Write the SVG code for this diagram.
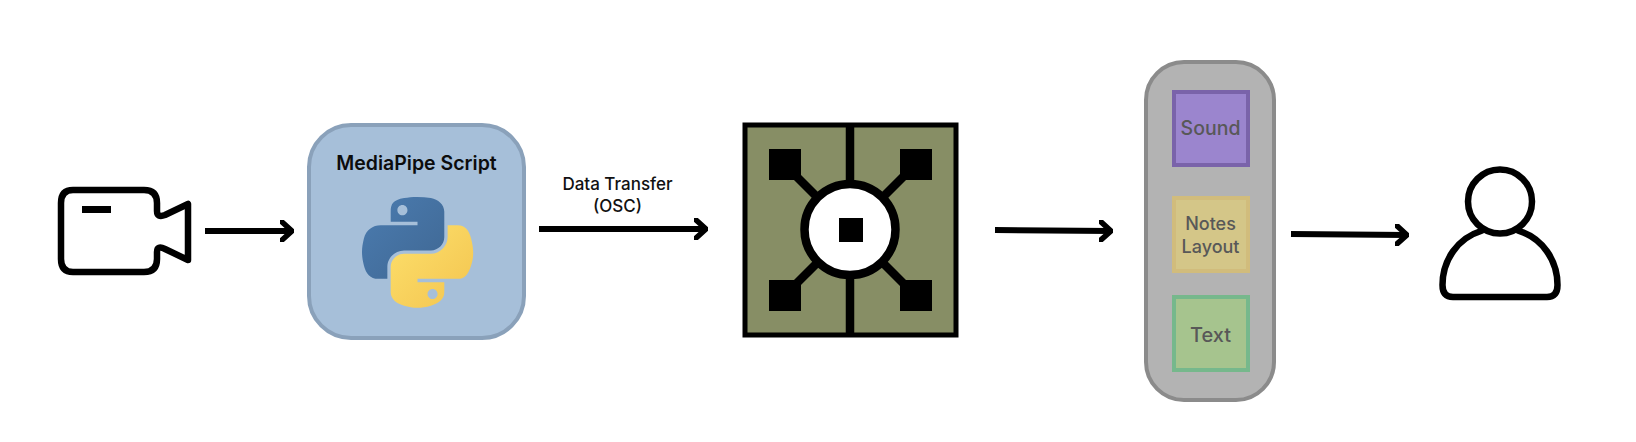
<svg xmlns="http://www.w3.org/2000/svg" width="1636" height="442" viewBox="0 0 1636 442">
<style>
text{font-family:Inter,"Liberation Sans",sans-serif;text-anchor:middle}
.ink{fill:none;stroke:#000;stroke-linecap:round;stroke-linejoin:round}
.label{font-size:19.5px;font-weight:500;fill:#585858}
.edge{font-size:17px;font-weight:500;fill:#111}
.sq{stroke-width:4}
.chipfill{fill:#000}
</style>
<defs>
<marker id="head" viewBox="0 0 14 22" refX="12" refY="11" markerWidth="14" markerHeight="22" markerUnits="userSpaceOnUse" orient="auto">
<path d="M2,2 L12,11 L2,20" fill="none" stroke="#000" stroke-width="5.5" stroke-linecap="round" stroke-linejoin="round"/>
</marker>
<linearGradient id="pyBlue" x1="0" y1="0" x2="1" y2="1"><stop offset="0" stop-color="#4b7cb0"/><stop offset="1" stop-color="#3f6793"/></linearGradient>
<linearGradient id="pyYellow" x1="0" y1="0" x2="1" y2="1"><stop offset="0" stop-color="#fde06c"/><stop offset="1" stop-color="#f3c44f"/></linearGradient>
</defs>
<rect width="1636" height="442" fill="#fff"/>
<g id="connectors" fill="none" stroke="#000" stroke-width="6">
<path d="M205,231 H292" marker-end="url(#head)"/>
<path d="M539,229 H706" marker-end="url(#head)"/>
<path d="M995,230 L1111,231" marker-end="url(#head)"/>
<path d="M1291,234 L1407,235" marker-end="url(#head)"/>
</g>
<g id="camera">
<path class="ink" stroke-width="6.5" d="M73,190 H144 Q157,190 157,203 V211 Q157,218 165,215 L188,204 V260 L165,249 Q157,245 157,252 V259 Q157,272 144,272 H73 Q61,272 61,259 V203 Q61,190 73,190 Z"/>
<rect x="82" y="206" width="29" height="7" fill="#000"/>
</g>
<g id="mediapipe">
<rect x="309" y="125" width="215" height="213" rx="42" fill="#a6bfd9" stroke="#8aa1ba" stroke-width="4"/>
<text x="416.5" y="170" font-size="19.5" font-weight="600" fill="#0c0c0c">MediaPipe Script</text>
<g transform="translate(362,197) scale(1,0.985)">
<path fill="url(#pyBlue)" d="M54.918785,0.00091927 C50.335132,0.02221727 45.957846,0.41313697 42.106285,1.0946693 30.760069,3.0991731 28.700036,7.2947714 28.700035,15.032169 v10.21875 h26.8125 v3.40625 h-26.8125 -10.0625 c-7.792459,0 -14.6157588,4.683717 -16.7499998,13.59375 -2.46181998,10.212966 -2.57101508,16.586023 0,27.25 1.9059283,7.937852 6.4575432,13.593748 14.2499998,13.59375 h9.21875 v-12.25 c0,-8.849902 7.657144,-16.656248 16.75,-16.65625 h26.78125 c7.454951,0 13.406253,-6.138164 13.40625,-13.625 v-25.53125 c0,-7.2663386 -6.12998,-12.7247771 -13.40625,-13.9374997 C64.281548,0.32794397 59.502438,-0.02037903 54.918785,0.00091927 Z m-14.5,8.21875 c2.769547,0 5.03125,2.2986456 5.03125,5.1249996 -2e-6,2.816336 -2.261703,5.09375 -5.03125,5.09375 -2.779476,-1e-6 -5.03125,-2.277415 -5.03125,-5.09375 -1e-6,-2.826353 2.251774,-5.1249996 5.03125,-5.1249996 Z"/>
<path fill="url(#pyYellow)" d="M85.637535,28.657169 v11.90625 c0,9.230755 -7.825895,16.999999 -16.75,17 h-26.78125 c-7.335833,0 -13.406249,6.278483 -13.40625,13.625 v25.531247 c0,7.266344 6.318588,11.540324 13.40625,13.625004 8.487331,2.49561 16.626237,2.94663 26.78125,0 6.750155,-1.95439 13.406253,-5.88761 13.40625,-13.625004 V86.500919 h-26.78125 v-3.40625 h26.78125 13.406254 c7.792461,0 10.696251,-5.435408 13.406241,-13.59375 2.79933,-8.398886 2.74022,-16.475776 0,-27.25 -1.92578,-7.757441 -5.60387,-13.59375 -13.406241,-13.59375 Z m-15.0625,64.65625 c2.779478,3e-6 5.03125,2.277417 5.03125,5.093747 -2e-6,2.826354 -2.251775,5.125004 -5.03125,5.125004 -2.76955,0 -5.03125,-2.29865 -5.03125,-5.125004 2e-6,-2.81633 2.261697,-5.093747 5.03125,-5.093747 Z"/>
</g>
</g>
<g id="edge-label">
<text class="edge" x="617.5" y="190">Data Transfer</text>
<text class="edge" x="617.5" y="212">(OSC)</text>
</g>
<g id="chip">
<rect x="745" y="125" width="211" height="210" fill="#878e65" stroke="#000" stroke-width="5"/>
<path d="M850,124 V335 M785,165 L915,295 M915,165 L785,295" stroke="#000" stroke-width="8.5" fill="none"/>
<rect x="769" y="149" width="32" height="31" class="chipfill"/>
<rect x="900" y="149" width="32" height="31" class="chipfill"/>
<rect x="769" y="280" width="32" height="31" class="chipfill"/>
<rect x="900" y="280" width="32" height="31" class="chipfill"/>
<circle cx="850" cy="229.5" r="45.5" fill="#fff" stroke="#000" stroke-width="8.5"/>
<rect x="839" y="218" width="24" height="24" class="chipfill"/>
</g>
<g id="output-panel">
<rect x="1146" y="62" width="128" height="338" rx="38" fill="#b3b3b3" stroke="#8b8b8b" stroke-width="4"/>
<g id="sound">
<rect class="sq" x="1174" y="92" width="74" height="73" fill="#9b85ce" stroke="#7a63aa"/>
<text class="label" x="1210.5" y="135">Sound</text>
</g>
<g id="notes-layout">
<rect class="sq" x="1174" y="198" width="74" height="73" fill="#d4c688" stroke="#d1bc7c"/>
<text class="label" x="1210.5" y="230" style="font-size:18px">Notes</text>
<text class="label" x="1210.5" y="253" style="font-size:18px">Layout</text>
</g>
<g id="text">
<rect class="sq" x="1174" y="297" width="74" height="73" fill="#a6c48e" stroke="#76b88c"/>
<text class="label" x="1210.5" y="342" style="font-size:20px">Text</text>
</g>
</g>
<g id="user">
<circle cx="1500" cy="201.5" r="32" fill="none" stroke="#000" stroke-width="6.5"/>
<path class="ink" stroke-width="6.5" d="M1481,231 C1458,238 1442.5,260 1442.5,285 Q1442.5,297 1453,297 H1547 Q1557.5,297 1557.5,285 C1557.5,260 1542,238 1519,231"/>
</g>
</svg>
